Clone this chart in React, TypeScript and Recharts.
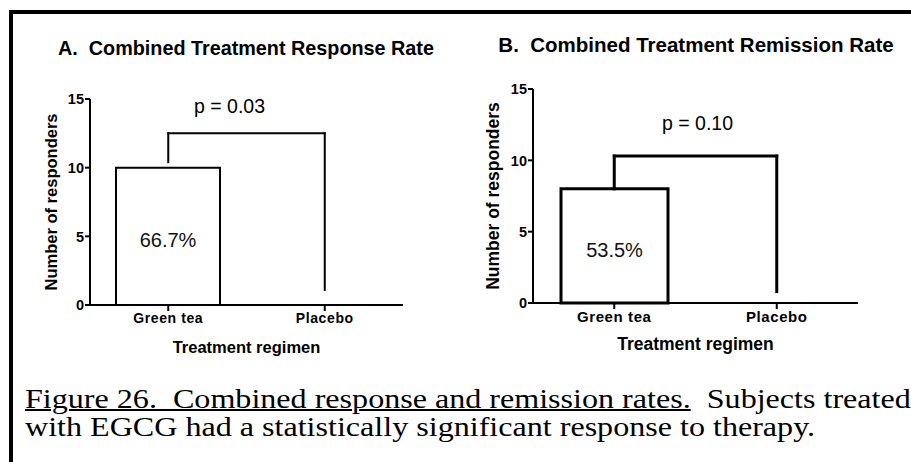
import React from 'react';
import { BarChart, Bar, XAxis, YAxis, ReferenceLine, LabelList, Label } from 'recharts';

// values
const categories = ['Green tea', 'Placebo'];
const responders = [10, 0];
const remitters = [8, 0];
const responsePct = ['66.7%', ''];
const remissionPct = ['53.5%', ''];
const yTicks = [0, 5, 10, 15];
// bracket: start on green tea, top, end on placebo
const responseBracket = [10.4, 12.5, 1.1];
const remissionBracket = [8, 10.3, 0.8];

const SANS = '"Liberation Sans", Arial, sans-serif';
const SERIF = '"Liberation Serif", "Times New Roman", serif';

const responseData = categories.map((name, i) => ({ name, value: responders[i], pct: responsePct[i] }));
const remissionData = categories.map((name, i) => ({ name, value: remitters[i], pct: remissionPct[i] }));

interface PanelProps {
  data: { name: string; value: number; pct: string }[];
  bracket: number[];
  pText: string;
  pDx: number;
  pOffset: number;
  width: number;
  height: number;
  margin: { top: number; right: number; bottom: number; left: number };
  barSize: number;
  lineW: number;
  tickFont: number;
  catFont: number;
  yLabelFont: number;
  xLabelFont: number;
  xLabelOffset: number;
  yLabelOffset: number;
}

const makeYTick = (size: number) => (props: any) => {
  const { x, y, payload } = props;
  return (
    <text x={x} y={y} dy={size * 0.36} textAnchor="end" fill="#000" fontSize={size} fontWeight={700} fontFamily={SANS}>
      {payload.value}
    </text>
  );
};

const Panel: React.FC<PanelProps> = (p) => {
  const [b0, b1, b2] = p.bracket;
  const bracketStyle = { stroke: '#000', strokeWidth: p.lineW, strokeLinecap: 'square' as const };
  return (
    <BarChart width={p.width} height={p.height} data={p.data} margin={p.margin} barCategoryGap={0}>
      <XAxis
        dataKey="name"
        axisLine={{ stroke: '#000', strokeWidth: 2 }}
        tickLine={{ stroke: '#000', strokeWidth: 2 }}
        tickSize={6}
        tick={{ fill: '#000', fontSize: p.catFont, fontWeight: 700, fontFamily: SANS, letterSpacing: 0.6 }}
        height={30}
      >
        <Label
          value="Treatment regimen"
          position="bottom"
          offset={p.xLabelOffset}
          style={{ fill: '#000', fontSize: p.xLabelFont, fontWeight: 700, fontFamily: SANS }}
        />
      </XAxis>
      <YAxis
        domain={[0, 15]}
        ticks={yTicks}
        width={40}
        axisLine={{ stroke: '#000', strokeWidth: 2 }}
        tickLine={{ stroke: '#000', strokeWidth: 2 }}
        tickSize={5}
        tickMargin={1}
        tick={makeYTick(p.tickFont)}
      >
        <Label
          value="Number of responders"
          angle={-90}
          position="insideLeft"
          offset={p.yLabelOffset}
          style={{ fill: '#000', fontSize: p.yLabelFont, fontWeight: 700, fontFamily: SANS, textAnchor: 'middle' }}
        />
      </YAxis>
      <Bar dataKey="value" barSize={p.barSize} fill="#fff" stroke="#000" strokeWidth={p.lineW} isAnimationActive={false}>
        <LabelList
          dataKey="pct"
          position="center"
          dy={4}
          style={{ fill: '#111', fontSize: 20, fontFamily: SANS, stroke: 'none' }}
        />
      </Bar>
      <ReferenceLine segment={[{ x: categories[0], y: b0 }, { x: categories[0], y: b1 }]} {...bracketStyle} />
      <ReferenceLine segment={[{ x: categories[0], y: b1 }, { x: categories[1], y: b1 }]} {...bracketStyle}>
        <Label
          value={p.pText}
          position="top"
          offset={p.pOffset}
          dx={p.pDx}
          style={{ fill: '#000', fontSize: 19.5, fontFamily: SANS }}
        />
      </ReferenceLine>
      <ReferenceLine segment={[{ x: categories[1], y: b1 }, { x: categories[1], y: b2 }]} {...bracketStyle} />
    </BarChart>
  );
};

const App: React.FC = () => {
  return (
    <div style={{ position: 'absolute', left: 0, top: 0, width: 911, height: 462, overflow: 'hidden', background: '#fff' }}>
      <div style={{ position: 'absolute', left: 9, top: 10, width: 960, height: 500, borderLeft: '4px solid #000', borderTop: '4px solid #000' }} />

      <div style={{ position: 'absolute', left: 0, top: 37, width: 492, textAlign: 'center', fontFamily: SANS, fontWeight: 700, fontSize: 19.8, color: '#000', whiteSpace: 'pre' }}>
        {'A.  Combined Treatment Response Rate'}
      </div>
      <div style={{ position: 'absolute', left: 455, top: 33, width: 482, textAlign: 'center', fontFamily: SANS, fontWeight: 700, fontSize: 20.5, color: '#000', whiteSpace: 'pre' }}>
        {'B.  Combined Treatment Remission Rate'}
      </div>

      <div style={{ position: 'absolute', left: 0, top: 0 }}>
        <Panel
          data={responseData}
          bracket={responseBracket}
          pText="p = 0.03"
          pDx={-17}
          pOffset={20}
          width={460}
          height={380}
          margin={{ top: 99, right: 57, bottom: 45, left: 50 }}
          barSize={104}
          lineW={2}
          tickFont={14.5}
          catFont={14}
          yLabelFont={16.5}
          xLabelFont={16.5}
          xLabelOffset={6}
          yLabelOffset={1}
        />
      </div>
      <div style={{ position: 'absolute', left: 455, top: 0 }}>
        <Panel
          data={remissionData}
          bracket={remissionBracket}
          pText="p = 0.10"
          pDx={2}
          pOffset={26}
          width={456}
          height={380}
          margin={{ top: 89, right: 53, bottom: 47, left: 38 }}
          barSize={107}
          lineW={3}
          tickFont={14.5}
          catFont={15}
          yLabelFont={17.5}
          xLabelFont={17.5}
          xLabelOffset={5}
          yLabelOffset={0}
        />
      </div>

      <div style={{ position: 'absolute', left: 25, top: 385, fontFamily: SERIF, fontSize: 28, lineHeight: '28px', color: '#000', whiteSpace: 'pre', transform: 'scaleX(1.146)', transformOrigin: 'left top' }}>
        <span style={{ textDecoration: 'underline', textDecorationThickness: 2 }}>{'Figure 26.  Combined response and remission rates.'}</span>
        {'  Subjects treated'}
        <br />
        {'with EGCG had a statistically significant response to therapy.'}
      </div>
    </div>
  );
};

export default App;
